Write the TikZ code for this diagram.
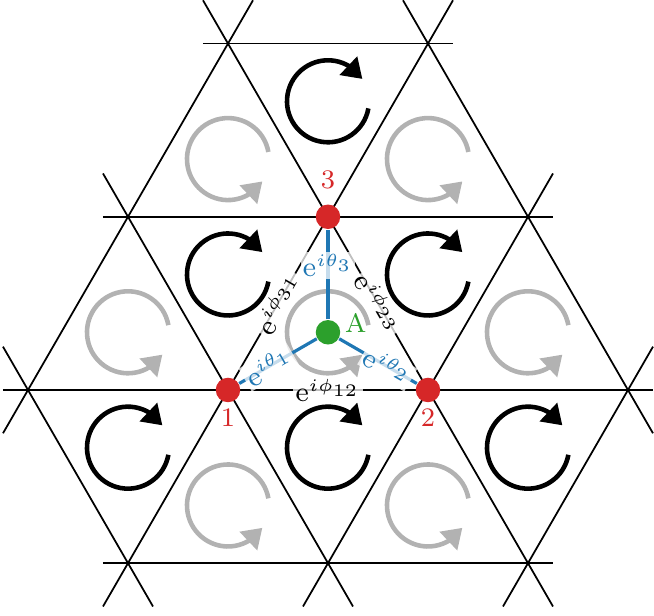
\documentclass[tikz,border=0pt]{standalone}
\usepackage{amsmath,amssymb}
\usetikzlibrary{arrows.meta,bending}

\definecolor{sitered}{RGB}{214,39,40}
\definecolor{centregreen}{RGB}{44,160,44}
\definecolor{bondblue}{RGB}{31,119,180}

\begin{document}
\begin{tikzpicture}[
  font=\fontsize{7.6}{9}\selectfont,
  latt/.style={draw, line width=0.5pt},
  cwloop/.style={line width=1.3pt, -{Triangle[length=5.5pt,width=7pt]}},
  ccwloop/.style={line width=1.3pt, black!30, -{Triangle[length=5.5pt,width=7pt]}},
  site/.style={circle, fill=sitered, minimum size=0.245cm, inner sep=0pt},
  centre/.style={circle, fill=centregreen, minimum size=0.245cm, inner sep=0pt},
  bond/.style={draw=bondblue, line width=0.9pt},
  phase/.style={fill=white, fill opacity=0.75, text opacity=1, inner sep=0.6pt}
]
\useasboundingbox (-2.28,-2.26) rectangle (4.26,3.90);

% lattice
\draw[latt] (-0.25,3.464) -- (2.25,3.464);
\draw[latt] (-1.25,1.732) -- (3.25,1.732);
\draw[latt] (-2.25,0) -- (4.25,0);
\draw[latt] (-1.25,-1.732) -- (3.25,-1.732);
\draw[latt] (-2.25,-0.433) -- (0.25,3.897);
\draw[latt] (-1.25,-2.165) -- (2.25,3.897);
\draw[latt] (0.75,-2.165) -- (3.25,2.165);
\draw[latt] (2.75,-2.165) -- (4.25,0.433);
\draw[latt] (-2.25,0.433) -- (-0.75,-2.165);
\draw[latt] (-1.25,2.165) -- (1.25,-2.165);
\draw[latt] (-0.25,3.897) -- (3.25,-2.165);
\draw[latt] (1.75,3.897) -- (4.25,-0.433);

% flux loops
\foreach \x/\y in {1/2.887, 0/1.155, 2/1.155, -1/-0.577, 1/-0.577, 3/-0.577}
  \draw[cwloop] (\x,\y) ++(-10:0.41) arc[start angle=-10, end angle=-327, radius=0.41];
\foreach \x/\y in {0/2.309, 2/2.309, -1/0.577, 1/0.577, 3/0.577, 0/-1.155, 2/-1.155}
  \draw[ccwloop] (\x,\y) ++(10:0.41) arc[start angle=10, end angle=327, radius=0.41];

% sites
\node[site, label={[sitered, label distance=-1.8pt]below:1}] (s1) at (0,0) {};
\node[site, label={[sitered, label distance=-1.8pt]below:2}] (s2) at (2,0) {};
\node[site, label={[sitered, label distance=0.6pt]above:3}] (s3) at (1,1.732) {};
\node[centre, label={[centregreen, anchor=base west, inner sep=1pt]east:A}] (a) at (1,0.577) {};

\path (s1) -- node[phase] {$\mathrm{e}^{i\phi_{12}}$} (s2);
\path (s3) -- node[phase, sloped] {$\mathrm{e}^{i\phi_{23}}$} (s2);
\path (s1) -- node[phase, sloped] {$\mathrm{e}^{i\phi_{31}}$} (s3);

\draw[bond] (a) -- node[phase, text=bondblue, sloped, pos=0.62] {$\mathrm{e}^{i\theta_1}$} (s1);
\draw[bond] (a) -- node[phase, text=bondblue, sloped, pos=0.62] {$\mathrm{e}^{i\theta_2}$} (s2);
\draw[bond] (a) -- node[phase, text=bondblue, pos=0.6] {$\mathrm{e}^{i\theta_3}$} (s3);
\end{tikzpicture}
\end{document}
